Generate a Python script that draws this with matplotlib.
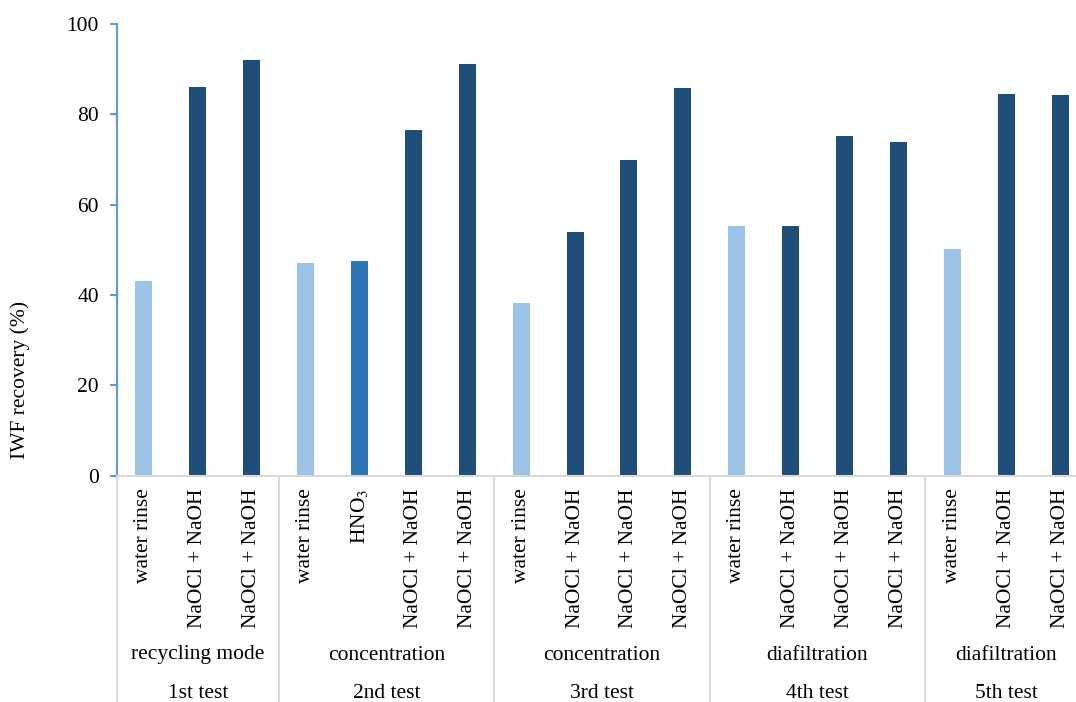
import matplotlib
matplotlib.use("Agg")
import matplotlib.pyplot as plt
import matplotlib.transforms as mtransforms

plt.rcParams['font.family'] = ['Liberation Serif', 'DejaVu Serif']
plt.rcParams['mathtext.fontset'] = 'stix'

# data
cleaning = ['water rinse', 'NaOCl + NaOH', 'NaOCl + NaOH',
            'water rinse', r'HNO$_3$', 'NaOCl + NaOH', 'NaOCl + NaOH',
            'water rinse', 'NaOCl + NaOH', 'NaOCl + NaOH', 'NaOCl + NaOH',
            'water rinse', 'NaOCl + NaOH', 'NaOCl + NaOH', 'NaOCl + NaOH',
            'water rinse', 'NaOCl + NaOH', 'NaOCl + NaOH']
recovery = [43.1, 86.1, 92.0,
            47.1, 47.5, 76.5, 91.1,
            38.2, 53.9, 69.8, 85.8,
            55.2, 55.2, 75.2, 73.8,
            50.1, 84.4, 84.2]
modes = ['recycling mode', 'concentration', 'concentration', 'diafiltration', 'diafiltration']
tests = ['1st test', '2nd test', '3rd test', '4th test', '5th test']
group_sizes = [3, 4, 4, 4, 3]

col_water = '#9DC3E6'
col_acid = '#2E75B6'
col_caustic = '#1F4E79'
fs = 15.5

def bar_colour(lbl):
    if lbl == 'water rinse':
        return col_water
    if 'HNO' in lbl:
        return col_acid
    return col_caustic

W, H = 1076, 702
fig = plt.figure(figsize=(W / 100, H / 100), dpi=100)
ax = fig.add_axes([117 / W, 1 - 475.7 / H, (1087 - 117) / W, (475.7 - 23.7) / H])

x = list(range(len(recovery)))
ax.bar(x, recovery, width=0.315, color=[bar_colour(c) for c in cleaning], zorder=2)

ax.set_xlim(-0.5, len(recovery) - 0.5)
ax.set_ylim(0, 100)
ax.set_yticks([0, 20, 40, 60, 80, 100])
ax.tick_params(axis='y', colors='#5B9BD5', length=5, width=1.5, pad=8, labelcolor='black', labelsize=fs)

ax.set_xticks(x)
ax.set_xticklabels(cleaning, rotation=90, va='top', ha='center', fontsize=fs)
ax.tick_params(axis='x', length=0, pad=9)

for s in ['top', 'right']:
    ax.spines[s].set_visible(False)
ax.spines['left'].set_color('#5B9BD5')
ax.spines['left'].set_linewidth(1.5)
ax.spines['bottom'].set_color('#D9D9D9')
ax.spines['bottom'].set_linewidth(1.5)

# group separators and two-level group labels below the axis
trans = mtransforms.blended_transform_factory(ax.transData, fig.transFigure)
y0 = 1 - 475.7 / H
start = 0
bounds = [-0.5]
for mode, test, n in zip(modes, tests, group_sizes):
    centre = start + (n - 1) / 2
    ax.text(centre, 1 - 655 / H, mode, transform=trans, ha='center', va='center', fontsize=fs)
    ax.text(centre, 1 - 693 / H, test, transform=trans, ha='center', va='center', fontsize=fs)
    start += n
    bounds.append(start - 0.5)
for b in bounds:
    ax.plot([b, b], [y0, 0], transform=trans, color='#D9D9D9', lw=1.5, clip_on=False)

fig.text(20 / W, 1 - 380 / H, 'IWF recovery (%)', rotation=90, ha='center', va='center', fontsize=fs)

fig.savefig('out.png', dpi=100)
